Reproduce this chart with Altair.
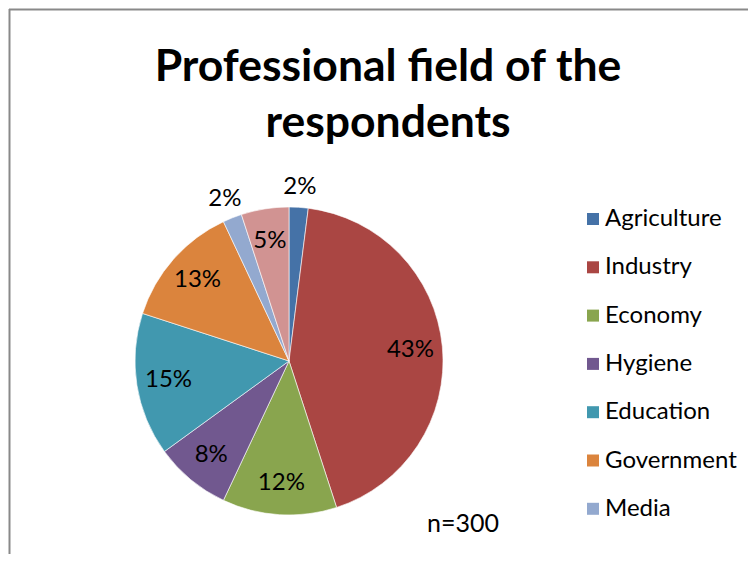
import altair as alt
import pandas as pd

categories = ["Agriculture", "Industry", "Economy", "Hygiene", "Education",
              "Government", "Media", "Other"]
values = [2, 43, 12, 8, 15, 13, 2, 5]
colors = ["#4572A7", "#AA4643", "#89A54E", "#71588F", "#4198AF",
          "#DB843D", "#93A9CF", "#D19392"]
legend_items = categories[:7]
title_lines = ["Professional field of the", "respondents"]
note = "n=300"

df = pd.DataFrame({"category": categories, "value": values,
                   "order": list(range(len(categories)))})

CX, CY, R = 281, 353, 154
W, H = 740, 546

color_scale = alt.Scale(domain=categories, range=colors)

pie = alt.Chart(df).mark_arc(outerRadius=R, stroke="white", strokeWidth=0.6).encode(
    theta=alt.Theta("value:Q", stack=True),
    order=alt.Order("order:Q"),
    x=alt.value(CX), y=alt.value(CY),
    color=alt.Color(
        "category:N", scale=color_scale,
        legend=alt.Legend(
            title=None, values=legend_items, orient="none",
            legendX=573, legendY=199, symbolType="square", symbolSize=144,
            symbolStrokeWidth=0, labelFontSize=24, labelFont="Lato",
            labelColor="#000000", rowPadding=24.3, labelOffset=0, padding=0,
            symbolOpacity=1,
        ),
    ),
)

labels = alt.Chart(df).transform_window(
    cum="sum(value)", sort=[{"field": "order"}], frame=[None, 0]
).transform_joinaggregate(
    total="sum(value)"
).transform_calculate(
    mid="(datum.cum - datum.value / 2) / datum.total * 2 * PI",
    lr="datum.value < 3 ? 174 : 122",
    pct="datum.value + '%'",
).mark_text(font="Lato", fontSize=24, color="#000000",
            align="center", baseline="middle").encode(
    x=alt.value(CX), y=alt.value(CY),
    theta=alt.Theta("mid:Q", scale=None),
    radius=alt.Radius("lr:Q", scale=None),
    text=alt.Text("pct:N"),
)

def title_line(text, y):
    return alt.Chart(pd.DataFrame({"t": [text]})).mark_text(
        font="Lato", fontWeight="bold", fontSize=44.5,
        color="#000000", align="center", baseline="alphabetic",
    ).encode(x=alt.value(380), y=alt.value(y), text="t:N")

title1 = title_line(title_lines[0], 73)
title2 = title_line(title_lines[1], 129)

note_chart = alt.Chart(pd.DataFrame({"t": [note]})).mark_text(
    font="Lato", fontSize=25, color="#000000", align="center",
    baseline="middle",
).encode(x=alt.value(455), y=alt.value(516), text="t:N")

top_border = alt.Chart(pd.DataFrame({"a": [0]})).mark_rule(
    color="#898989", strokeWidth=2).encode(
    x=alt.value(1), x2=alt.value(W), y=alt.value(1.5))
left_border = alt.Chart(pd.DataFrame({"a": [0]})).mark_rule(
    color="#898989", strokeWidth=2).encode(
    x=alt.value(1.5), y=alt.value(1), y2=alt.value(H))

chart = alt.layer(pie, labels, title1, title2, note_chart, top_border, left_border).properties(
    width=W, height=H, padding=0, autosize=alt.AutoSizeParams(type="none"),
).configure_view(stroke=None)

chart.save("out.html", embed_options={"renderer": "svg", "actions": False})
